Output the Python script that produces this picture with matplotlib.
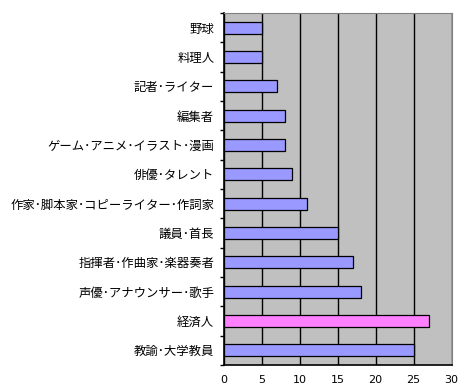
import matplotlib
matplotlib.use("Agg")
from matplotlib import pyplot as plt

plt.rcParams['font.family'] = ['Noto Sans CJK JP', 'DejaVu Sans']

# top to bottom as in the chart
categories = ['野球', '料理人', '記者･ライター', '編集者', 'ゲーム･アニメ･イラスト･漫画',
              '俳優･タレント', '作家･脚本家･コピーライター･作詞家', '議員･首長',
              '指揮者･作曲家･楽器奏者', '声優･アナウンサー･歌手', '経済人', '教諭･大学教員']
values = [5, 5, 7, 8, 8, 9, 11, 15, 17, 18, 27, 25]
highlight = '経済人'
xticks = [0, 5, 10, 15, 20, 25, 30]

fig = plt.figure(figsize=(4.58, 3.89), dpi=100)
ax = fig.add_axes([224 / 458, 1 - 365 / 389, (451.5 - 224) / 458, (365 - 13) / 389])
ax.set_facecolor('#C0C0C0')

n = len(categories)
ypos = list(range(n))[::-1]
colors = ['#FF80FF' if c == highlight else '#9999FF' for c in categories]
ax.barh(ypos, values, height=0.42, color=colors, edgecolor='black', linewidth=0.9, zorder=3)

ax.set_xlim(0, 30)
ax.set_ylim(-0.5, n - 0.5)
ax.set_xticks(xticks)
ax.set_xticklabels([str(t) for t in xticks], fontsize=8, family='DejaVu Sans')
ax.tick_params(axis='x', length=0, pad=7)
ax.xaxis.grid(True, color='black', linewidth=1.0, zorder=1)
ax.set_axisbelow(True)

ax.set_yticks([i - 0.5 for i in range(n + 1)])
ax.set_yticklabels([])
ax.set_yticks(ypos, minor=True)
ax.set_yticklabels(categories, minor=True, fontsize=8.9)
ax.tick_params(axis='y', which='major', length=3, width=1, direction='out')
ax.tick_params(axis='y', which='minor', length=0, pad=7)

for side in ['top', 'right']:
    ax.spines[side].set_color('#808080')
for side in ['left', 'bottom']:
    ax.spines[side].set_color('black')
    ax.spines[side].set_linewidth(1.2)

plt.savefig('out.png', dpi=100)
